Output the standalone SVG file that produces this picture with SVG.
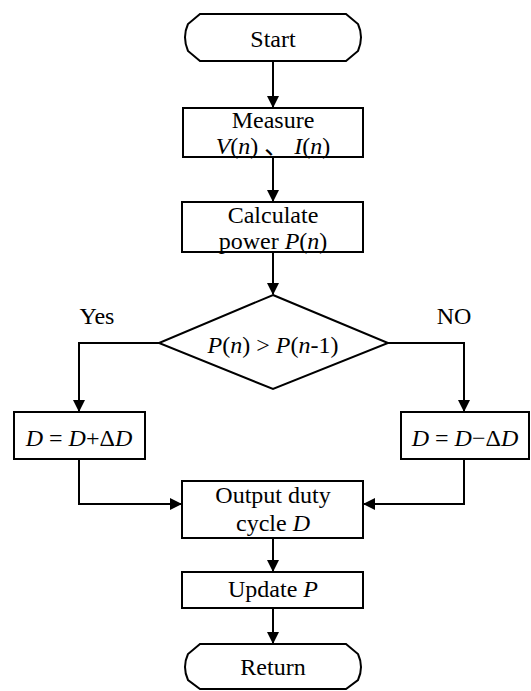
<svg xmlns="http://www.w3.org/2000/svg" width="531" height="691" viewBox="0 0 531 691">
<style>
.s{fill:#fff;stroke:#000;stroke-width:2}
.c{fill:none;stroke:#000;stroke-width:2}
text{font-family:"Liberation Serif","Times New Roman","Noto Sans CJK SC",serif;font-size:24px;fill:#000;text-anchor:middle}
.i{font-style:italic}
</style>
<defs>
<marker id="a" markerWidth="12" markerHeight="12" refX="11" refY="6" orient="auto" markerUnits="userSpaceOnUse">
<path d="M0,0 L12,6 L0,12 Z" fill="#000"/>
</marker>
</defs>
<g id="connectors">
<path class="c" d="M273,61 V107" marker-end="url(#a)"/>
<path class="c" d="M273,157 V201" marker-end="url(#a)"/>
<path class="c" d="M273,252 V294" marker-end="url(#a)"/>
<path class="c" d="M159,343 H79 V411" marker-end="url(#a)"/>
<path class="c" d="M388,343 H464 V411" marker-end="url(#a)"/>
<path class="c" d="M79,459 V504 H181" marker-end="url(#a)"/>
<path class="c" d="M464,459 V504 H364" marker-end="url(#a)"/>
<path class="c" d="M273,538 V571" marker-end="url(#a)"/>
<path class="c" d="M273,608 V643" marker-end="url(#a)"/>
</g>
<g id="start">
<path class="s" d="M200,14 H346 L358,24 Q364,37 358,51 L346,61 H200 L188,51 Q182,37 188,24 Z"/>
<text x="273" y="47">Start</text>
</g>
<g id="measure">
<rect class="s" x="183" y="108" width="180" height="49"/>
<text x="273" y="128">Measure</text>
<text x="273" y="154"><tspan class="i">V</tspan>(<tspan class="i">n</tspan>) 、 <tspan class="i">I</tspan>(<tspan class="i">n</tspan>)</text>
</g>
<g id="calculate">
<rect class="s" x="182" y="202" width="181" height="50"/>
<text x="273" y="223">Calculate</text>
<text x="273" y="249">power  <tspan class="i">P</tspan>(<tspan class="i">n</tspan>)</text>
</g>
<g id="decision">
<path class="s" d="M273,295 L388,343 L273,389 L159,343 Z"/>
<text x="273" y="353"><tspan class="i">P</tspan>(<tspan class="i">n</tspan>) &gt; <tspan class="i">P</tspan>(<tspan class="i">n</tspan>-1)</text>
</g>
<text x="97" y="324">Yes</text>
<text x="454" y="324">NO</text>
<g id="inc">
<rect class="s" x="14" y="412" width="131" height="47"/>
<text x="79" y="446"><tspan class="i">D</tspan> = <tspan class="i">D</tspan>+Δ<tspan class="i">D</tspan></text>
</g>
<g id="dec">
<rect class="s" x="401" y="412" width="128" height="47"/>
<text x="465" y="446"><tspan class="i">D</tspan> = <tspan class="i">D</tspan>−Δ<tspan class="i">D</tspan></text>
</g>
<g id="output">
<rect class="s" x="182" y="481" width="181" height="57"/>
<text x="273" y="503">Output duty</text>
<text x="273" y="531">cycle  <tspan class="i">D</tspan></text>
</g>
<g id="update">
<rect class="s" x="182" y="572" width="181" height="36"/>
<text x="273" y="597">Update <tspan class="i">P</tspan></text>
</g>
<g id="return">
<path class="s" d="M200,644 H346 L358,654 Q364,667 358,680 L346,689 H200 L188,680 Q182,667 188,654 Z"/>
<text x="273" y="675">Return</text>
</g>
</svg>
